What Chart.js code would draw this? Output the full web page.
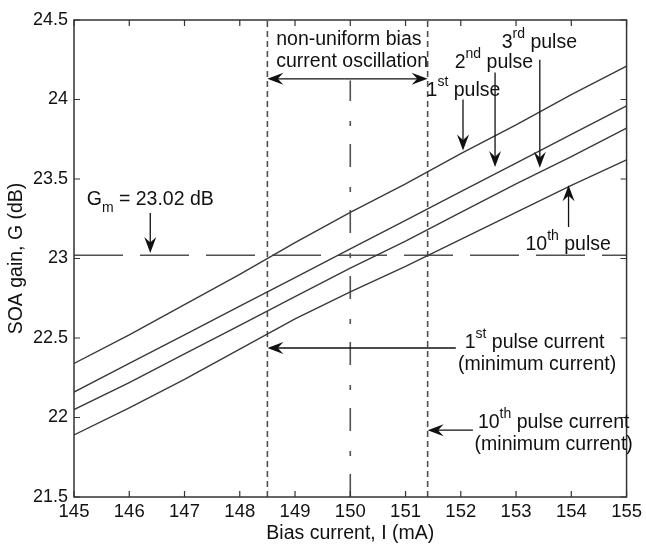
<!DOCTYPE html>
<html>
<head>
<meta charset="utf-8">
<script src="https://cdn.jsdelivr.net/npm/chart.js@4.4.1/dist/chart.umd.min.js"></script>
<style>
  html, body { margin: 0; padding: 0; background: #fff; }
</style>
</head>
<body>
<canvas id="gainChart" width="646" height="545"></canvas>
<script>
// bias current (mA) and SOA gain (dB) for each pulse
const current = [145, 146, 147, 148, 149, 150, 151, 152, 153, 154, 155];
const gain1st = [22.34, 22.52, 22.71, 22.90, 23.10, 23.29, 23.47, 23.66, 23.84, 24.03, 24.21];
const gain2nd = [22.16, 22.34, 22.52, 22.70, 22.88, 23.06, 23.24, 23.42, 23.60, 23.78, 23.96];
const gain3rd = [22.05, 22.22, 22.40, 22.58, 22.76, 22.94, 23.11, 23.29, 23.47, 23.64, 23.82];
const gain10th = [21.89, 22.06, 22.24, 22.43, 22.62, 22.79, 22.95, 23.12, 23.29, 23.46, 23.62];

// reference levels
const gainM = 23.02;
const current1stMin = 148.5;
const currentCentre = 150;
const current10thMin = 151.4;

const xRange = [145, 155];
const yRange = [21.5, 24.5];

const FONT = '"Liberation Sans", Arial, Helvetica, sans-serif';
const INK = '#111';
const LINE = '#3a3a3a';

const pts = (xs, ys) => xs.map((x, i) => ({ x: x, y: ys[i] }));

function curve(ys) {
    return {
        data: pts(current, ys),
        borderColor: LINE,
        borderWidth: 1.4,
        pointRadius: 0,
        showLine: true,
        tension: 0
    };
}

function guide(points, dash) {
    return {
        data: points,
        borderColor: '#505050',
        borderWidth: 1.6,
        borderDash: dash,
        pointRadius: 0,
        showLine: true
    };
}

// arrow with a notched filled head, given in data units
function arrow(chart, x0, y0, x1, y1) {
    const { ctx, scales: { x, y } } = chart;
    const ax = x.getPixelForValue(x0), ay = y.getPixelForValue(y0);
    const bx = x.getPixelForValue(x1), by = y.getPixelForValue(y1);
    const a = Math.atan2(by - ay, bx - ax);
    const len = 16, half = 6;
    const c = Math.cos(a), s = Math.sin(a);
    ctx.beginPath();
    ctx.moveTo(ax, ay);
    ctx.lineTo(bx - len * 0.6 * c, by - len * 0.6 * s);
    ctx.stroke();
    ctx.beginPath();
    ctx.moveTo(bx, by);
    ctx.lineTo(bx - len * c + half * s, by - len * s - half * c);
    ctx.lineTo(bx - len * 0.65 * c, by - len * 0.65 * s);
    ctx.lineTo(bx - len * c - half * s, by - len * s + half * c);
    ctx.closePath();
    ctx.fill();
}

// text with superscript / subscript pieces, left edge and middle in data units
function label(chart, xv, yv, parts) {
    const { ctx, scales: { x, y } } = chart;
    let cx = x.getPixelForValue(xv);
    const cy = y.getPixelForValue(yv);
    ctx.textAlign = 'left';
    ctx.textBaseline = 'middle';
    for (const [t, kind] of parts) {
        ctx.font = (kind ? '14px ' : '19.5px ') + FONT;
        const dy = kind === 'sup' ? -9 : kind === 'sub' ? 8 : 0;
        ctx.fillText(t, cx, cy + dy);
        cx += ctx.measureText(t).width;
    }
}

const figureExtras = {
    id: 'figureExtras',
    afterDatasetsDraw(chart) {
        const { ctx, chartArea: a, scales: { x, y } } = chart;
        ctx.save();

        // frame with inward ticks on all four sides
        ctx.strokeStyle = '#333';
        ctx.lineWidth = 1.5;
        ctx.strokeRect(a.left, a.top, a.right - a.left, a.bottom - a.top);
        ctx.lineWidth = 1.2;
        ctx.beginPath();
        x.ticks.forEach(t => {
            const p = x.getPixelForValue(t.value);
            ctx.moveTo(p, a.bottom); ctx.lineTo(p, a.bottom - 6);
            ctx.moveTo(p, a.top); ctx.lineTo(p, a.top + 6);
        });
        y.ticks.forEach(t => {
            const p = y.getPixelForValue(t.value);
            ctx.moveTo(a.left, p); ctx.lineTo(a.left + 6, p);
            ctx.moveTo(a.right, p); ctx.lineTo(a.right - 6, p);
        });
        ctx.stroke();

        ctx.strokeStyle = INK;
        ctx.fillStyle = INK;
        ctx.lineWidth = 1.3;

        // oscillation range
        label(chart, 148.66, 24.374, [['non-uniform bias']]);
        label(chart, 148.66, 24.236, [['current oscillation']]);
        arrow(chart, 149.9, 24.13, current1stMin, 24.13);
        arrow(chart, 149.9, 24.13, current10thMin, 24.13);

        // pulse labels
        label(chart, 151.38, 24.053, [['1'], ['st', 'sup'], [' pulse']]);
        arrow(chart, 152.04, 24.0, 152.04, 23.68);
        label(chart, 151.89, 24.23, [['2'], ['nd', 'sup'], [' pulse']]);
        arrow(chart, 152.62, 24.17, 152.62, 23.575);
        label(chart, 152.74, 24.355, [['3'], ['rd', 'sup'], [' pulse']]);
        arrow(chart, 153.43, 24.25, 153.43, 23.57);
        label(chart, 153.17, 23.085, [['10'], ['th', 'sup'], [' pulse']]);
        arrow(chart, 153.95, 23.198, 153.95, 23.46);

        // maximum gain
        label(chart, 145.23, 23.368, [['G'], ['m', 'sub'], [' = 23.02 dB']]);
        arrow(chart, 146.38, 23.286, 146.38, 23.035);

        // minimum currents
        label(chart, 152.07, 22.47, [['1'], ['st', 'sup'], [' pulse current']]);
        label(chart, 151.95, 22.33, [['(minimum current)']]);
        arrow(chart, 151.91, 22.437, current1stMin, 22.437);
        label(chart, 152.31, 21.965, [['10'], ['th', 'sup'], [' pulse current']]);
        label(chart, 152.25, 21.827, [['(minimum current)']]);
        arrow(chart, 152.22, 21.92, current10thMin, 21.92);

        ctx.restore();
    }
};

new Chart(document.getElementById('gainChart'), {
    type: 'scatter',
    data: {
        datasets: [
            curve(gain1st),
            curve(gain2nd),
            curve(gain3rd),
            curve(gain10th),
            guide([{ x: xRange[0], y: gainM }, { x: xRange[1], y: gainM }], [49, 17]),
            guide([{ x: current1stMin, y: yRange[0] }, { x: current1stMin, y: yRange[1] }], [6, 4]),
            guide([{ x: current10thMin, y: yRange[0] }, { x: current10thMin, y: yRange[1] }], [6, 4]),
            guide([{ x: currentCentre, y: yRange[0] }, { x: currentCentre, y: 24.12 }], [23, 18, 5, 20])
        ]
    },
    options: {
        responsive: false,
        animation: false,
        layout: { padding: { top: 20, right: 15, left: 0, bottom: 0 } },
        plugins: {
            legend: { display: false },
            tooltip: { enabled: false }
        },
        scales: {
            x: {
                type: 'linear',
                min: xRange[0],
                max: xRange[1],
                afterFit: s => { s.height = 48; },
                grid: { display: false, drawTicks: false },
                border: { display: false },
                ticks: {
                    stepSize: 1,
                    padding: 4,
                    color: INK,
                    font: { family: FONT, size: 18.5 },
                    maxRotation: 0
                },
                title: {
                    display: true,
                    text: 'Bias current, I (mA)',
                    color: INK,
                    font: { family: FONT, size: 19.5 },
                    padding: { top: 0, bottom: 0 }
                }
            },
            y: {
                min: yRange[0],
                max: yRange[1],
                afterFit: s => { s.width = 74; },
                grid: { display: false, drawTicks: false },
                border: { display: false },
                ticks: {
                    stepSize: 0.5,
                    padding: 6,
                    color: INK,
                    font: { family: FONT, size: 18 },
                    callback: v => String(v)
                },
                title: {
                    display: true,
                    text: 'SOA gain, G (dB)',
                    color: INK,
                    font: { family: FONT, size: 19.5 },
                    padding: { top: 5, bottom: 0 }
                }
            }
        }
    },
    plugins: [figureExtras]
});
</script>
</body>
</html>
